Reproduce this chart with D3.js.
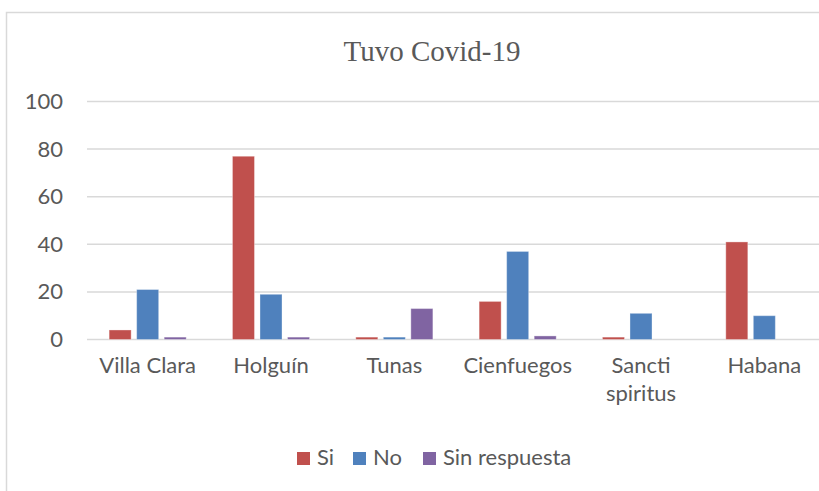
<!DOCTYPE html>
<html>
<head>
<meta charset="utf-8">
<script src="https://cdn.jsdelivr.net/npm/d3@7"></script>
<style>
  body { margin: 0; background: #fff; }
  text { fill: #595959; }
</style>
</head>
<body>
<div id="chart"></div>
<script>
const width = 819;
const height = 491;

// data
const categories = ["Villa Clara", "Holguín", "Tunas", "Cienfuegos", "Sancti spiritus", "Habana"];
const seriesNames = ["Si", "No", "Sin respuesta"];
const siValues = [4, 77, 1, 16, 1, 41];
const noValues = [21, 19, 1, 37, 11, 10];
const sinValues = [1, 1, 13, 1.5, 0, 0];
const yTicks = [0, 20, 40, 60, 80, 100];
const colors = ["#C0504D", "#4F81BD", "#8064A2"];

const seriesValues = [siValues, noValues, sinValues];
const rows = categories.map((c, i) => ({
  category: c,
  values: seriesNames.map((s, j) => ({ series: s, value: seriesValues[j][i] })),
}));

const svg = d3
  .select("#chart")
  .append("svg")
  .attr("width", width)
  .attr("height", height);

// chart frame (only top and left edges are visible in the picture)
svg
  .append("path")
  .attr("d", `M6.5,${height} V12.5 H${width}`)
  .attr("fill", "none")
  .attr("stroke", "#d9d9d9")
  .attr("stroke-width", 1.5);

const x0 = d3
  .scaleBand()
  .domain(categories)
  .range([86, 826])
  .paddingInner(0.375)
  .paddingOuter(0.1875);

const x1 = d3
  .scaleBand()
  .domain(seriesNames)
  .range([0, x0.bandwidth()])
  .paddingInner(0.2);

const y = d3.scaleLinear().domain([0, 100]).range([339.5, 101.5]);

// gridlines
svg
  .append("g")
  .selectAll("line")
  .data(yTicks)
  .join("line")
  .attr("x1", 87)
  .attr("x2", width)
  .attr("y1", (d) => y(d))
  .attr("y2", (d) => y(d))
  .attr("stroke", "#d9d9d9")
  .attr("stroke-width", 1.5);

// y axis labels
const yAxis = svg
  .append("g")
  .attr("transform", "translate(87,0)")
  .call(d3.axisLeft(y).tickValues(yTicks).tickSize(0).tickPadding(24));
yAxis.select(".domain").remove();
yAxis
  .selectAll("text")
  .attr("font-family", "Lato, sans-serif")
  .attr("font-size", 22)
  .attr("fill", "#595959");

// bars
const groups = svg
  .append("g")
  .selectAll("g")
  .data(rows)
  .join("g")
  .attr("transform", (d) => `translate(${x0(d.category)},0)`);

groups
  .selectAll("rect")
  .data((d) => d.values.filter((v) => v.value > 0))
  .join("rect")
  .attr("x", (d) => x1(d.series))
  .attr("y", (d) => y(d.value))
  .attr("width", x1.bandwidth())
  .attr("height", (d) => y(0) - y(d.value))
  .attr("fill", (d) => colors[seriesNames.indexOf(d.series)])
  .attr("stroke", "#fff")
  .attr("stroke-opacity", 0.35)
  .attr("stroke-width", 1);

// x axis labels
const xAxis = svg
  .append("g")
  .attr("transform", `translate(0,${y(0)})`)
  .call(d3.axisBottom(x0).tickSize(0).tickPadding(18));
xAxis.select(".domain").remove();
xAxis
  .selectAll("text")
  .attr("font-family", "Lato, sans-serif")
  .attr("font-size", 22)
  .attr("fill", "#595959")
  .call(wrap, x0.step() - 8);

function wrap(selection, maxWidth) {
  selection.each(function () {
    const text = d3.select(this);
    if (this.getComputedTextLength() <= maxWidth) return;
    const words = text.text().split(" ");
    const dy = text.attr("dy");
    text.text(null);
    words.forEach((w, i) => {
      text
        .append("tspan")
        .attr("x", 0)
        .attr("dy", i === 0 ? dy : "1.25em")
        .text(w);
    });
  });
}

// title
svg
  .append("text")
  .attr("x", 432)
  .attr("y", 61)
  .attr("text-anchor", "middle")
  .attr("font-family", "'Liberation Serif', 'Times New Roman', serif")
  .attr("font-size", 29)
  .attr("fill", "#595959")
  .text("Tuvo Covid-19");

// legend
const legendX = [297, 353, 423];
const legend = svg
  .append("g")
  .selectAll("g")
  .data(seriesNames)
  .join("g")
  .attr("transform", (d, i) => `translate(${legendX[i]},452)`);

legend
  .append("rect")
  .attr("width", 13)
  .attr("height", 13)
  .attr("fill", (d, i) => colors[i]);

legend
  .append("text")
  .attr("x", 20)
  .attr("y", 13)
  .attr("font-family", "Lato, sans-serif")
  .attr("font-size", 22)
  .attr("fill", "#595959")
  .text((d) => d);
</script>
</body>
</html>
